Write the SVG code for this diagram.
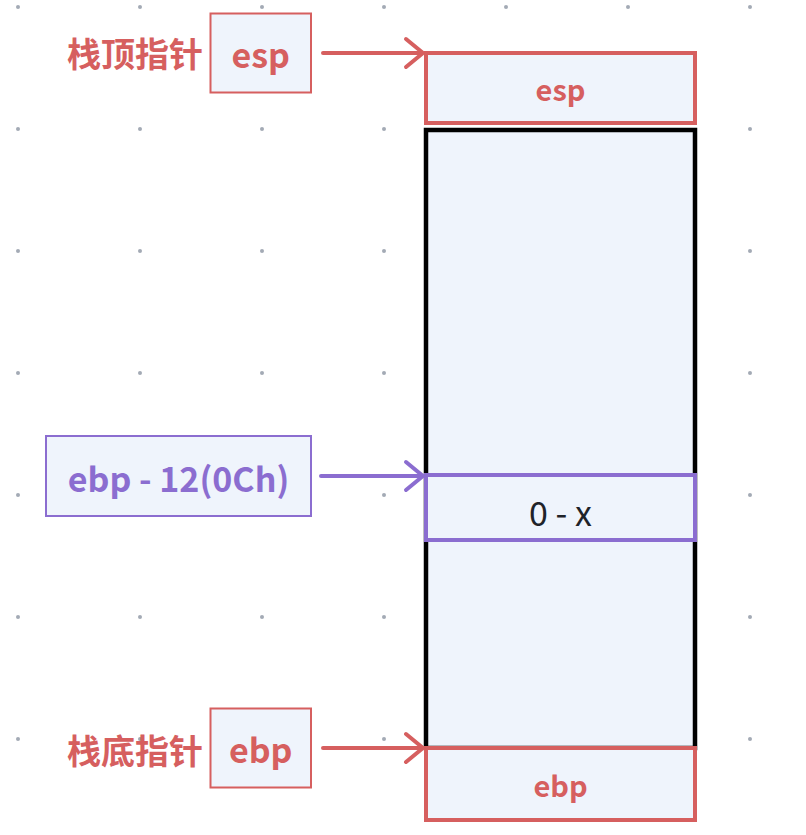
<svg xmlns="http://www.w3.org/2000/svg" width="806" height="835" viewBox="0 0 806 835">
<style>
.dot{fill:#a3aab5}
.red{fill:#eff4fc;stroke:#d65f5f;stroke-width:4}
.redl{fill:#eff4fc;stroke:#d65f5f;stroke-width:2}
.pur{fill:#eff4fc;stroke:#8b6dd0;stroke-width:4}
.purl{fill:#eff4fc;stroke:#8b6dd0;stroke-width:2}
.blk{fill:#eff4fc;stroke:#000;stroke-width:4.5}
text{font-family:"Noto Sans CJK SC","Noto Sans",sans-serif}
.tr{fill:#d65f5f;font-weight:bold}
.tp{fill:#8b6dd0;font-weight:bold}
.tk{fill:#1f2329}
.cr{fill:none;stroke:#d65f5f;stroke-width:4;stroke-linecap:round;stroke-linejoin:round}
.cp{fill:none;stroke:#8b6dd0;stroke-width:4;stroke-linecap:round;stroke-linejoin:round}
</style>
<g id="grid">
<g class="dot">
<circle cx="18" cy="7" r="2"/><circle cx="140" cy="7" r="2"/><circle cx="262" cy="7" r="2"/><circle cx="384" cy="7" r="2"/><circle cx="506" cy="7" r="2"/><circle cx="628" cy="7" r="2"/><circle cx="750" cy="7" r="2"/>
<circle cx="18" cy="129" r="2"/><circle cx="140" cy="129" r="2"/><circle cx="262" cy="129" r="2"/><circle cx="384" cy="129" r="2"/><circle cx="750" cy="129" r="2"/>
<circle cx="18" cy="251" r="2"/><circle cx="140" cy="251" r="2"/><circle cx="262" cy="251" r="2"/><circle cx="384" cy="251" r="2"/><circle cx="750" cy="251" r="2"/>
<circle cx="18" cy="373" r="2"/><circle cx="140" cy="373" r="2"/><circle cx="262" cy="373" r="2"/><circle cx="384" cy="373" r="2"/><circle cx="750" cy="373" r="2"/>
<circle cx="18" cy="495" r="2"/><circle cx="384" cy="495" r="2"/><circle cx="750" cy="495" r="2"/>
<circle cx="18" cy="617" r="2"/><circle cx="140" cy="617" r="2"/><circle cx="262" cy="617" r="2"/><circle cx="384" cy="617" r="2"/><circle cx="750" cy="617" r="2"/>
<circle cx="18" cy="739" r="2"/><circle cx="140" cy="739" r="2"/><circle cx="384" cy="739" r="2"/><circle cx="750" cy="739" r="2"/>
</g>
</g>
<g id="stack">
<rect class="blk" x="426" y="130" width="269" height="618"/>
</g>
<g id="cell-esp">
<rect class="red" x="426" y="53" width="269" height="70"/>
<text class="tr" x="560.5" y="101" font-size="29" text-anchor="middle">esp</text>
</g>
<g id="cell-x">
<rect class="pur" x="426" y="475" width="269" height="65"/>
<text class="tk" x="560.5" y="526" font-size="34" text-anchor="middle">0 - x</text>
</g>
<g id="cell-ebp">
<rect class="red" x="426" y="748" width="269" height="72"/>
<text class="tr" x="560.5" y="797" font-size="29" text-anchor="middle">ebp</text>
</g>
<g id="label-esp">
<text class="tr" x="203" y="67" font-size="34" text-anchor="end">栈顶指针</text>
<rect class="redl" x="210.5" y="13.5" width="100.5" height="79"/>
<text class="tr" x="260.75" y="68" font-size="34" text-anchor="middle">esp</text>
</g>
<g id="label-ebpoff">
<rect class="purl" x="46" y="436" width="265" height="80"/>
<text class="tp" x="178.5" y="492" font-size="34" text-anchor="middle">ebp - 12(0Ch)</text>
</g>
<g id="label-ebp">
<text class="tr" x="203" y="764" font-size="34" text-anchor="end">栈底指针</text>
<rect class="redl" x="210.5" y="708.5" width="100.5" height="79"/>
<text class="tr" x="260.75" y="763" font-size="34" text-anchor="middle">ebp</text>
</g>
<g id="connectors">
<path class="cr" d="M323 53H423M406 39L423 53L406 67"/>
<path class="cp" d="M321 476H423M406 462L423 476L406 490"/>
<path class="cr" d="M323 748H423M406 734L423 748L406 762"/>
</g>
</svg>
